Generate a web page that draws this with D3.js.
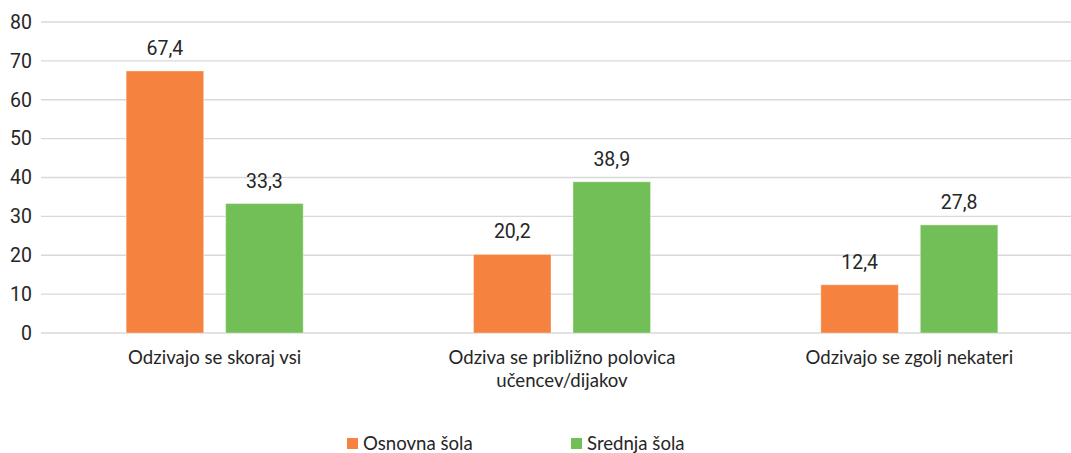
<!DOCTYPE html>
<html>
<head>
<meta charset="utf-8">
<script src="https://cdn.jsdelivr.net/npm/d3@7"></script>
<style>
  body { margin: 0; background: #fff; }
  .tick text { font-family: Roboto, "Liberation Sans", sans-serif; }
</style>
</head>
<body>
<div id="chart"></div>
<script>
var categories = ["Odzivajo se skoraj vsi", "Odziva se približno polovica\nučencev/dijakov", "Odzivajo se zgolj nekateri"];
var series = ["Osnovna šola", "Srednja šola"];
var osnovna = [67.4, 20.2, 12.4];
var srednja = [33.3, 38.9, 27.8];
var yTicks = [0, 10, 20, 30, 40, 50, 60, 70, 80];
var colors = ["#F5823E", "#73BF57"];

var width = 1071, height = 453;
var margin = {top: 22, left: 41, bottom: 120};
var plotRight = 1083;
var plotBottom = 333;

var svg = d3.select("#chart").append("svg")
  .attr("width", width)
  .attr("height", height);

var x0 = d3.scaleBand().domain(categories).range([margin.left, plotRight]).padding(0);
var x1 = d3.scaleBand().domain(series).range([0, x0.bandwidth()])
  .paddingInner(0.221).paddingOuter(0.856);
var y = d3.scaleLinear().domain([0, 80]).range([plotBottom, margin.top]);

// grid
svg.append("g").selectAll("line")
  .data(yTicks)
  .enter().append("line")
  .attr("x1", margin.left)
  .attr("x2", plotRight)
  .attr("y1", function(d) { return y(d); })
  .attr("y2", function(d) { return y(d); })
  .style("stroke", "#d9d9d9")
  .style("stroke-width", 1.3);

// y axis labels
var yAxis = d3.axisLeft(y).tickValues(yTicks).tickSize(0).tickPadding(9);
svg.append("g")
  .attr("transform", "translate(" + margin.left + ",0)")
  .call(yAxis)
  .call(function(g) { g.select(".domain").remove(); })
  .selectAll("text")
  .style("font-size", "19.5px")
  .style("fill", "#262626");

var rows = categories.map(function(c, i) {
  return {cat: c, values: [osnovna[i], srednja[i]]};
});

var groups = svg.selectAll(".grp")
  .data(rows)
  .enter().append("g")
  .attr("class", "grp")
  .attr("transform", function(d) { return "translate(" + x0(d.cat) + ",0)"; });

groups.selectAll("rect")
  .data(function(d) { return d.values.map(function(v, j) { return {s: series[j], v: v, j: j}; }); })
  .enter().append("rect")
  .attr("x", function(d) { return x1(d.s); })
  .attr("y", function(d) { return y(d.v); })
  .attr("width", x1.bandwidth())
  .attr("height", function(d) { return plotBottom - y(d.v); })
  .style("fill", function(d) { return colors[d.j]; })
  .style("stroke", "#ffffff")
  .style("stroke-opacity", 0.35)
  .style("stroke-width", 1);

// value labels
groups.selectAll(".val")
  .data(function(d) { return d.values.map(function(v, j) { return {s: series[j], v: v}; }); })
  .enter().append("text")
  .attr("class", "val")
  .attr("x", function(d) { return x1(d.s) + x1.bandwidth() / 2; })
  .attr("y", function(d) { return y(d.v) - 16; })
  .attr("text-anchor", "middle")
  .style("font-family", "Roboto, 'Liberation Sans', sans-serif")
  .style("font-size", "19.5px")
  .style("fill", "#262626")
  .text(function(d) { return String(d.v).replace(".", ","); });

// category labels
groups.append("text")
  .attr("text-anchor", "middle")
  .attr("x", x0.bandwidth() / 2)
  .attr("y", 364)
  .style("font-family", "Lato, 'Open Sans', sans-serif")
  .style("font-size", "18.6px")
  .style("fill", "#262626")
  .selectAll("tspan")
  .data(function(d) { return d.cat.split("\n"); })
  .enter().append("tspan")
  .attr("x", x0.bandwidth() / 2)
  .attr("dy", function(d, i) { return i == 0 ? 0 : 23; })
  .text(function(d) { return d; });

// legend
var legendX = [347, 571];
var legend = svg.selectAll(".leg")
  .data(series)
  .enter().append("g")
  .attr("class", "leg")
  .attr("transform", function(d, i) { return "translate(" + legendX[i] + ",438)"; });

legend.append("rect")
  .attr("width", 11)
  .attr("height", 11)
  .style("fill", function(d, i) { return colors[i]; });

legend.append("text")
  .attr("x", 16)
  .attr("y", 12)
  .style("font-family", "Lato, 'Open Sans', sans-serif")
  .style("font-size", "18.6px")
  .style("fill", "#262626")
  .text(function(d) { return d; });
</script>
</body>
</html>
